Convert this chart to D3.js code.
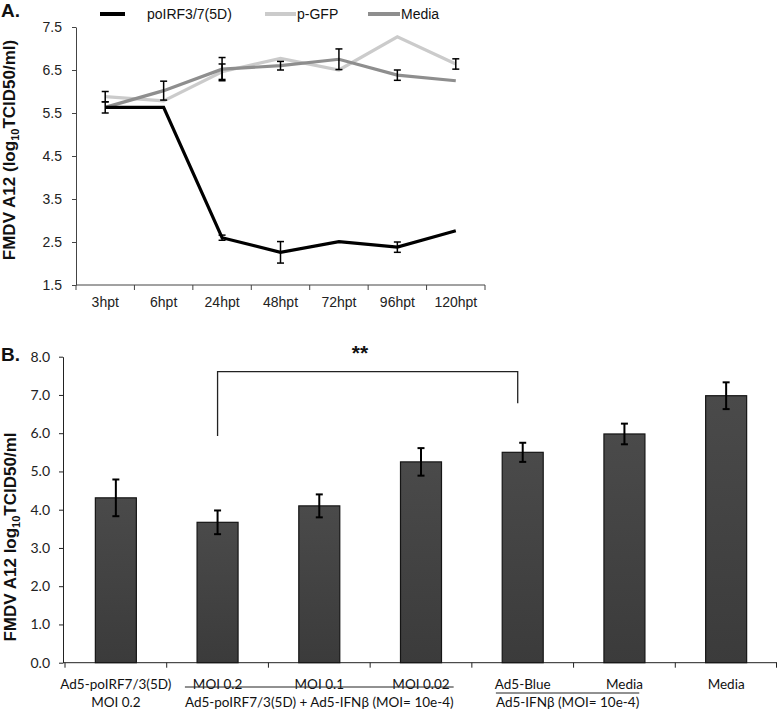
<!DOCTYPE html>
<html>
<head>
<meta charset="utf-8">
<script src="https://cdn.jsdelivr.net/npm/d3@7"></script>
<style>
  html, body { margin: 0; padding: 0; background: #fff; }
  svg { display: block; }
</style>
</head>
<body>
<svg id="chart" width="777" height="712"></svg>
<script>
// ---------- Panel A data ----------
const hours = ["3hpt", "6hpt", "24hpt", "48hpt", "72hpt", "96hpt", "120hpt"];
const yTicksA = [1.5, 2.5, 3.5, 4.5, 5.5, 6.5, 7.5];
const seriesNames = ["poIRF3/7(5D)", "p-GFP", "Media"];
const irfValues   = [5.63, 5.63, 2.60, 2.26, 2.51, 2.38, 2.76];
const irfErr      = [0.13, 0,    0.06, 0.25, 0,    0.12, 0];
const gfpValues   = [5.88, 5.78, 6.46, 6.77, 6.50, 7.27, 6.64];
const gfpErr      = [0.12, 0,    0.18, 0,    0,    0,    0.12];
const mediaValues = [5.63, 6.02, 6.52, 6.60, 6.75, 6.38, 6.25];
const mediaErr    = [0,    0.22, 0.27, 0.10, 0.24, 0.12, 0];

// ---------- Panel B data ----------
const treatments = ["5D MOI 0.2", "5D+IFN MOI 0.2", "5D+IFN MOI 0.1", "5D+IFN MOI 0.02", "Ad5-Blue+IFN", "Media+IFN", "Media"];
const barLabelsTop = ["Ad5-poIRF7/3(5D)", "MOI 0.2", "MOI 0.1", "MOI 0.02", "Ad5-Blue", "Media", "Media"];
const barLabelsBottom = ["MOI 0.2", "", "", "", "", "", ""];
const barValues = [4.31, 3.67, 4.10, 5.25, 5.50, 5.98, 6.98];
const barErr    = [0.48, 0.31, 0.30, 0.36, 0.25, 0.27, 0.35];
const groupLabels = ["Ad5-poIRF7/3(5D) + Ad5-IFNβ (MOI= 10e-4)", "Ad5-IFNβ (MOI= 10e-4)"];
const groupStart = [1, 4];
const groupEnd = [3, 5];
const yTicksB = [0, 1, 2, 3, 4, 5, 6, 7, 8];
const bracketFrom = 1, bracketTo = 4;
const bracketTop = 7.61, bracketLeftEnd = 5.93, bracketRightEnd = 6.78;
const sigLabel = "**";

const svg = d3.select("#chart");
const AR = "'Liberation Sans', Arial, sans-serif";
const CAL = "Lato, 'Open Sans', sans-serif";

// ================= Panel A =================
const xA = d3.scaleBand().domain(hours).range([76, 485]).padding(0);
const yA = d3.scaleLinear().domain([1.5, 7.5]).range([285, 27]);
const cx = h => xA(h) + xA.bandwidth() / 2;

const gA = svg.append("g");
// y axis
const yAxisA = gA.append("g").attr("transform", "translate(76,0)")
  .call(d3.axisLeft(yA).tickValues(yTicksA).tickFormat(d3.format(".1f")).tickSize(4).tickSizeOuter(0).tickPadding(10));
yAxisA.selectAll("text").attr("font-family", AR).attr("font-size", 14).attr("fill", "#222");
yAxisA.selectAll("path,line").attr("stroke", "#444");
// x axis
const xAxisA = gA.append("g").attr("transform", "translate(0,285)")
  .call(d3.axisBottom(xA).tickSize(0).tickPadding(12));
xAxisA.select("path").attr("stroke", "#444").attr("d", `M${xA.range()[0]},0H${xA.range()[1]}`);
xAxisA.selectAll("text").attr("font-family", AR).attr("font-size", 14).attr("fill", "#222");
const boundsA = hours.map(h => xA(h)).concat([xA.range()[1]]);
gA.selectAll(".btA").data(boundsA).enter().append("line")
  .attr("x1", d => d).attr("x2", d => d).attr("y1", 285).attr("y2", 290)
  .attr("stroke", "#444");

const lineA = d3.line().x((d, i) => cx(hours[i])).y(d => yA(d));
const seriesA = [
  { name: seriesNames[1], values: gfpValues, err: gfpErr, color: "#cbcbcb" },
  { name: seriesNames[2], values: mediaValues, err: mediaErr, color: "#8e8e8e" },
  { name: seriesNames[0], values: irfValues, err: irfErr, color: "#000000" }
];
seriesA.forEach(s => {
  gA.append("path").datum(s.values).attr("d", lineA)
    .attr("fill", "none").attr("stroke", s.color).attr("stroke-width", 3.2);
});
seriesA.forEach(s => {
  s.values.forEach((v, i) => {
    const e = s.err[i];
    if (!e) return;
    const x = cx(hours[i]);
    const g = gA.append("g").attr("stroke", "#000").attr("stroke-width", 1.5);
    g.append("line").attr("x1", x).attr("x2", x).attr("y1", yA(v + e)).attr("y2", yA(v - e));
    g.append("line").attr("x1", x - 3.5).attr("x2", x + 3.5).attr("y1", yA(v + e)).attr("y2", yA(v + e));
    g.append("line").attr("x1", x - 3.5).attr("x2", x + 3.5).attr("y1", yA(v - e)).attr("y2", yA(v - e));
  });
});

// legend
const legendA = [
  { name: seriesNames[0], color: "#000000", x1: 100, x2: 125, tx: 147 },
  { name: seriesNames[1], color: "#cbcbcb", x1: 265, x2: 296, tx: 297 },
  { name: seriesNames[2], color: "#8e8e8e", x1: 368, x2: 400, tx: 401 }
];
legendA.forEach(l => {
  gA.append("line").attr("x1", l.x1).attr("x2", l.x2).attr("y1", 14).attr("y2", 14)
    .attr("stroke", l.color).attr("stroke-width", 4);
  gA.append("text").attr("x", l.tx).attr("y", 19).attr("font-family", AR).attr("font-size", 14)
    .attr("fill", "#111").text(l.name);
});

// y title A
const tA = gA.append("text").attr("transform", "translate(15,150) rotate(-90)")
  .attr("text-anchor", "middle").attr("font-family", AR).attr("font-weight", "bold")
  .attr("font-size", 17).attr("fill", "#111");
tA.append("tspan").text("FMDV A12 (log");
tA.append("tspan").attr("font-size", 11).attr("dy", 4).text("10");
tA.append("tspan").attr("dy", -4).text("TCID50/ml)");

svg.append("text").attr("x", 1).attr("y", 17).attr("font-family", AR).attr("font-weight", "bold")
  .attr("font-size", 19).attr("fill", "#111").text("A.");

// ================= Panel B =================
const xB = d3.scaleBand().domain(treatments).range([65, 777]).paddingInner(0.6).paddingOuter(0.3);
const yB = d3.scaleLinear().domain([0, 8]).range([662.7, 356.7]);
const bandB = d3.scaleBand().domain(treatments).range([65, 777]).padding(0);
const cB = t => bandB(t) + bandB.bandwidth() / 2;

const gB = svg.append("g");
const defs = svg.append("defs");
const grad = defs.append("linearGradient").attr("id", "barGrad").attr("x1", 0).attr("x2", 0).attr("y1", 0).attr("y2", 1);
grad.append("stop").attr("offset", "0%").attr("stop-color", "#4a4a4a");
grad.append("stop").attr("offset", "100%").attr("stop-color", "#3b3b3b");

const yAxisB = gB.append("g").attr("transform", "translate(63,0)")
  .call(d3.axisLeft(yB).tickValues(yTicksB).tickFormat(d3.format(".1f")).tickSize(4).tickSizeOuter(0).tickPadding(9));
yAxisB.selectAll("text").attr("font-family", CAL).attr("font-size", 14).attr("fill", "#222");
yAxisB.selectAll("path,line").attr("stroke", "#222");

gB.append("line").attr("x1", 63).attr("x2", bandB.range()[1]).attr("y1", yB(0)).attr("y2", yB(0))
  .attr("stroke", "#222");
const boundsB = treatments.map(t => bandB(t)).concat([bandB.range()[1] - 0.5]);
gB.selectAll(".btB").data(boundsB).enter().append("line")
  .attr("x1", d => d).attr("x2", d => d).attr("y1", yB(0)).attr("y2", yB(0) + 5)
  .attr("stroke", "#222");

const bw = 41;
gB.selectAll(".bar").data(treatments).enter().append("rect")
  .attr("x", t => cB(t) - bw / 2).attr("width", bw)
  .attr("y", (t, i) => yB(barValues[i])).attr("height", (t, i) => yB(0) - yB(barValues[i]))
  .attr("fill", "url(#barGrad)").attr("stroke", "#151515").attr("stroke-width", 1.2);

treatments.forEach((t, i) => {
  const x = cB(t), v = barValues[i], e = barErr[i];
  const g = gB.append("g").attr("stroke", "#000").attr("stroke-width", 2);
  g.append("line").attr("x1", x).attr("x2", x).attr("y1", yB(v + e)).attr("y2", yB(v - e));
  g.append("line").attr("x1", x - 3.5).attr("x2", x + 3.5).attr("y1", yB(v + e)).attr("y2", yB(v + e));
  g.append("line").attr("x1", x - 3.5).attr("x2", x + 3.5).attr("y1", yB(v - e)).attr("y2", yB(v - e));
});

// bracket
const bxl = cB(treatments[bracketFrom]), bxr = cB(treatments[bracketTo]) - 5;
gB.append("path")
  .attr("d", `M${bxl},${yB(bracketLeftEnd)}V${yB(bracketTop)}H${bxr}V${yB(bracketRightEnd)}`)
  .attr("fill", "none").attr("stroke", "#222").attr("stroke-width", 1.3);
gB.append("text").attr("x", 360).attr("y", 360).attr("text-anchor", "middle")
  .attr("font-family", AR).attr("font-weight", "bold").attr("font-size", 21).attr("fill", "#111")
  .text(sigLabel);

// x labels B
treatments.forEach((t, i) => {
  gB.append("text").attr("x", cB(t)).attr("y", 689).attr("text-anchor", "middle")
    .attr("font-family", CAL).attr("font-size", 13.5).attr("fill", "#111").text(barLabelsTop[i]);
  if (barLabelsBottom[i]) {
    gB.append("text").attr("x", cB(t)).attr("y", 707).attr("text-anchor", "middle")
      .attr("font-family", CAL).attr("font-size", 13.5).attr("fill", "#111").text(barLabelsBottom[i]);
  }
});
const groupLineY = [687, 693];
groupLabels.forEach((lab, k) => {
  const mid = (cB(treatments[groupStart[k]]) + cB(treatments[groupEnd[k]])) / 2 - (k === 1 ? 6 : 0);
  const txt = gB.append("text").attr("x", mid).attr("y", 707).attr("text-anchor", "middle")
    .attr("font-family", CAL).attr("font-size", 13.5).attr("fill", "#111").text(lab);
  const w = txt.node().getComputedTextLength();
  gB.append("line").attr("x1", mid - w / 2).attr("x2", mid + w / 2)
    .attr("y1", groupLineY[k]).attr("y2", groupLineY[k]).attr("stroke", "#222").attr("stroke-width", 1);
});

// y title B
const tB = gB.append("text").attr("transform", "translate(16,537) rotate(-90)")
  .attr("text-anchor", "middle").attr("font-family", AR).attr("font-weight", "bold")
  .attr("font-size", 17).attr("fill", "#111");
tB.append("tspan").text("FMDV A12 log");
tB.append("tspan").attr("font-size", 11).attr("dy", 4).text("10");
tB.append("tspan").attr("dy", -4).text("TCID50/ml");

svg.append("text").attr("x", 1).attr("y", 361).attr("font-family", AR).attr("font-weight", "bold")
  .attr("font-size", 19).attr("fill", "#111").text("B.");
</script>
</body>
</html>
